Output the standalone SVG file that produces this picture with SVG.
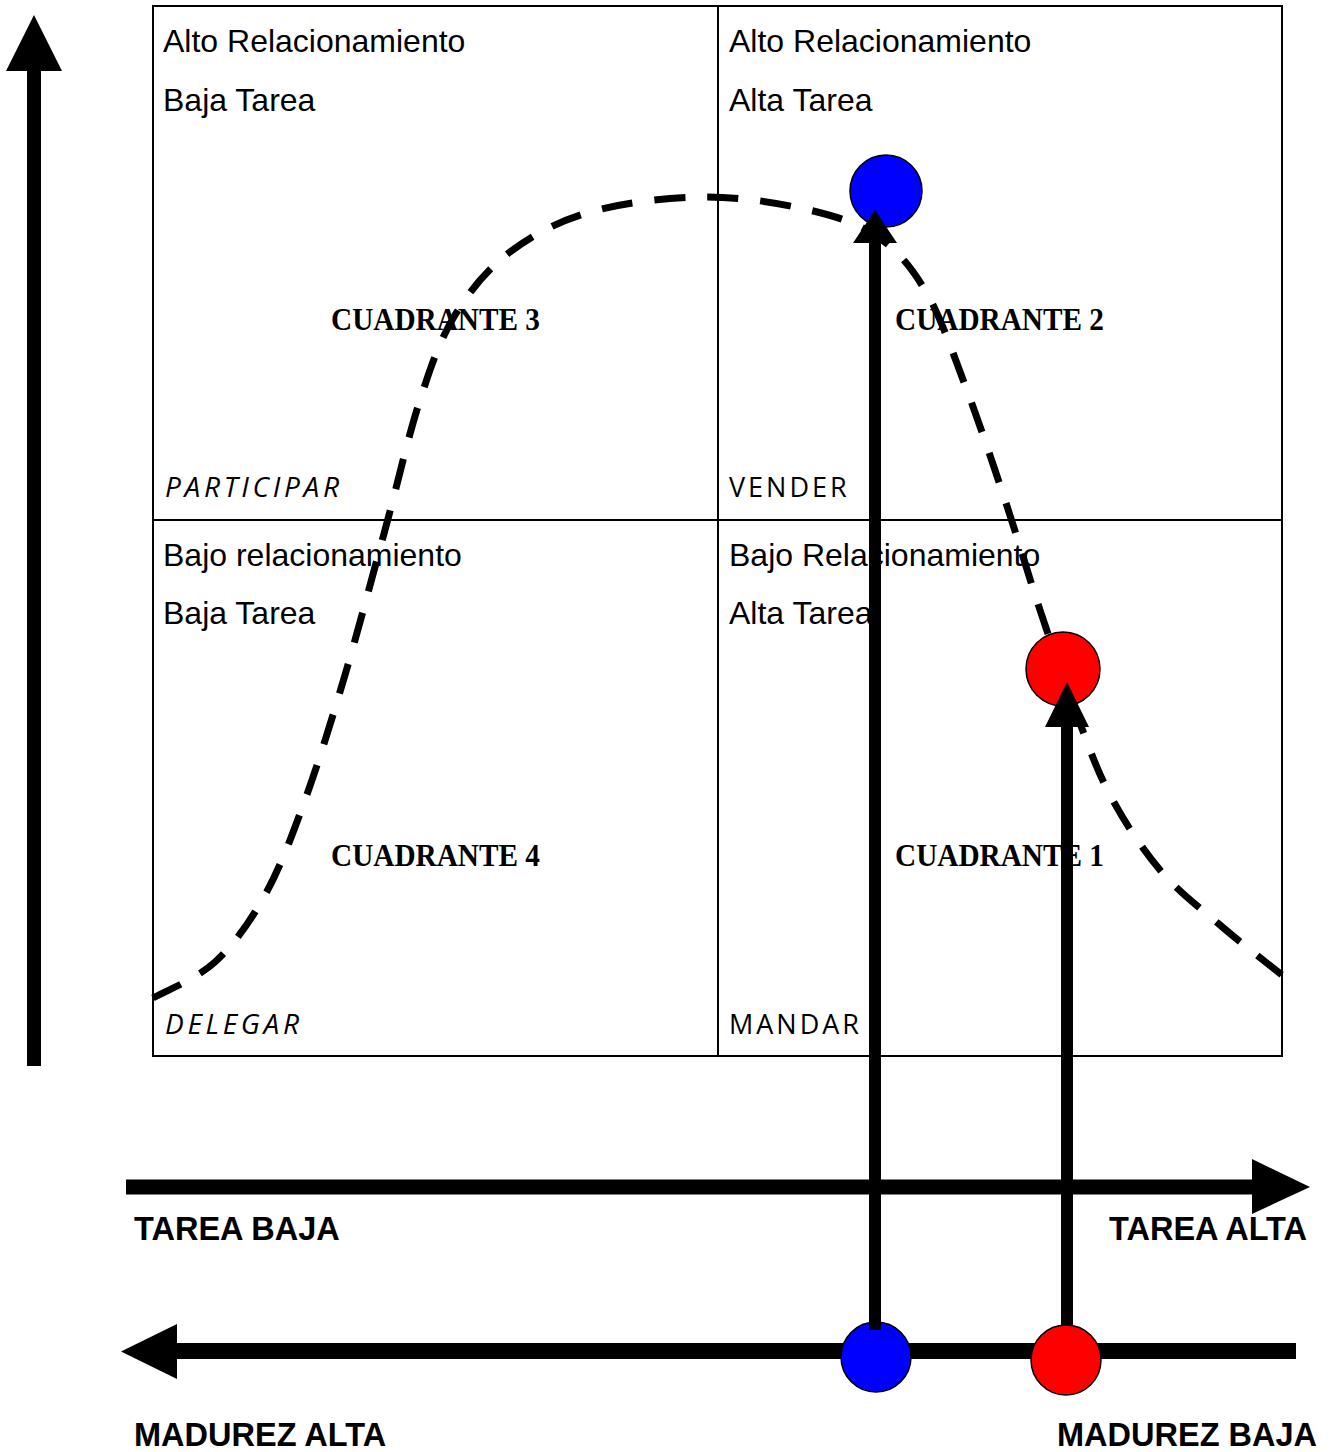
<svg xmlns="http://www.w3.org/2000/svg" width="1330" height="1452" viewBox="0 0 1330 1452">
<style>
.lbl{font-family:"Liberation Sans",Arial,sans-serif;font-size:32px;fill:#000}
.sty{font-family:"Open Sans","Liberation Sans",sans-serif;font-size:27px;letter-spacing:3px;fill:#000}
.it{font-style:italic;font-size:28px;letter-spacing:3.7px}
.cuad{font-family:"Liberation Serif","Times New Roman",serif;font-size:32px;font-weight:bold;fill:#000}
.axis{font-family:"Liberation Sans",Arial,sans-serif;font-size:32.5px;font-weight:bold;fill:#000}
.grid{fill:none;stroke:#000;stroke-width:2}
.curve{fill:none;stroke:#000;stroke-width:7;stroke-dasharray:31 22}
.dot{stroke:#000;stroke-width:1.5}
</style>
<rect width="1330" height="1452" fill="#fff"/>
<g id="grid">
<rect class="grid" x="153" y="6" width="1129" height="1050"/>
<line class="grid" x1="718" y1="6" x2="718" y2="1056"/>
<line class="grid" x1="153" y1="520" x2="1282" y2="520"/>
</g>
<g id="q3">
<text class="lbl" x="163" y="52">Alto Relacionamiento</text>
<text class="lbl" x="163" y="111">Baja Tarea</text>
<text class="cuad" x="331" y="330" textLength="209" lengthAdjust="spacingAndGlyphs">CUADRANTE 3</text>
<text class="sty it" x="165" y="497">PARTICIPAR</text>
</g>
<g id="q2">
<text class="lbl" x="729" y="52">Alto Relacionamiento</text>
<text class="lbl" x="729" y="111">Alta Tarea</text>
<text class="cuad" x="895" y="330" textLength="209" lengthAdjust="spacingAndGlyphs">CUADRANTE 2</text>
<text class="sty" x="729" y="497">VENDER</text>
</g>
<g id="q4">
<text class="lbl" x="163" y="566">Bajo relacionamiento</text>
<text class="lbl" x="163" y="624">Baja Tarea</text>
<text class="cuad" x="331" y="866" textLength="209" lengthAdjust="spacingAndGlyphs">CUADRANTE 4</text>
<text class="sty it" x="165" y="1034">DELEGAR</text>
</g>
<g id="q1">
<text class="lbl" x="729" y="566">Bajo Relacionamiento</text>
<text class="lbl" x="729" y="624">Alta Tarea</text>
<text class="cuad" x="895" y="866" textLength="209" lengthAdjust="spacingAndGlyphs">CUADRANTE 1</text>
<text class="sty" x="729" y="1034">MANDAR</text>
</g>
<g id="axis-labels">
<text class="axis" x="134" y="1240">TAREA BAJA</text>
<text class="axis" x="1307" y="1240" text-anchor="end">TAREA ALTA</text>
<text class="axis" x="134" y="1446">MADUREZ ALTA</text>
<text class="axis" x="1317" y="1446" text-anchor="end">MADUREZ BAJA</text>
</g>
<g id="connectors">
<path id="curve" class="curve" d="M153,998 C163.3,992 196.3,979.2 215,962 C233.7,944.8 250,922 265,895 C280,868 291.7,836.7 305,800 C318.3,763.3 331.7,720 345,675 C358.3,630 372.5,575.8 385,530 C397.5,484.2 408.3,435.8 420,400 C431.7,364.2 440,339.7 455,315 C470,290.3 487.5,269.2 510,252 C532.5,234.8 558.3,221.2 590,212 C621.7,202.8 665,197.7 700,197 C735,196.3 770.8,201.7 800,208 C829.2,214.3 854.2,221.3 875,235 C895.8,248.7 910,265 925,290 C940,315 951.7,350 965,385 C978.3,420 992.5,462.5 1005,500 C1017.5,537.5 1028.3,575 1040,610 C1051.7,645 1063.3,679.2 1075,710 C1086.7,740.8 1095.8,768.3 1110,795 C1124.2,821.7 1141.7,848.3 1160,870 C1178.3,891.7 1199.7,907.5 1220,925 C1240.3,942.5 1271.7,966.7 1282,975"/>
<path id="v-axis" d="M27,1066 V71 H6 L34,15 L62,71 H41 V1066 Z" fill="#000"/>
<path id="tarea-axis" d="M126,1179.5 H1252 V1159 L1310,1187 L1252,1214 V1194.5 H126 Z" fill="#000"/>
<path id="madurez-axis" d="M1296,1343 H177 V1324 L121,1351.5 L177,1379 V1359 H1296 Z" fill="#000"/>
</g>
<g id="points">
<circle id="blue-top" class="dot" cx="886" cy="191" r="36" fill="#0000ff"/>
<circle id="red-mid" class="dot" cx="1063" cy="669" r="37" fill="#ff0000"/>
<circle id="red-bottom" class="dot" cx="1066" cy="1360" r="35" fill="#ff0000"/>
<circle id="blue-bottom" class="dot" cx="876" cy="1357" r="35" fill="#0000ff"/>
</g>
<g id="arrows">
<path id="red-arrow" d="M1061,1326 V727 H1045 L1067,682 L1089,727 H1073 V1326 Z" fill="#000"/>
<path id="blue-arrow" d="M869,1330 V243 H853 L875,210 L897,243 H881 V1330 Z" fill="#000"/>
</g>
</svg>
